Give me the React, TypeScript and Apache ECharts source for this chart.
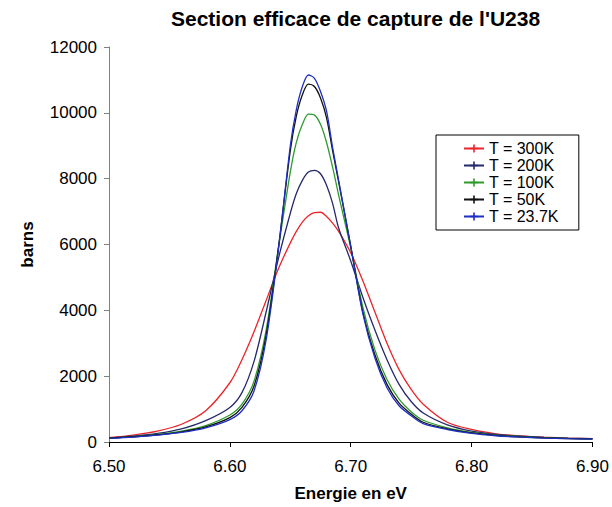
import React, { useEffect, useRef } from "react";
import * as echarts from "echarts";

const energies = [
  6.5, 6.52, 6.54, 6.56, 6.58, 6.6, 6.61, 6.62, 6.63, 6.64, 6.65, 6.655, 6.66, 6.665, 6.67,
  6.675, 6.68, 6.685, 6.69, 6.7, 6.71, 6.72, 6.73, 6.74, 6.75, 6.76, 6.78, 6.8, 6.82, 6.84,
  6.86, 6.88, 6.9,
];

const t300 = [
  130, 210, 330, 540, 950, 1800, 2500, 3350, 4300, 5250, 6050, 6400, 6680, 6870, 6970,
  6980, 6850, 6650, 6400, 5750, 4900, 3950, 3000, 2200, 1600, 1150, 600, 380, 250, 185,
  145, 120, 105,
];
const t200 = [
  120, 175, 260, 400, 650, 1050, 1500, 2450, 3950, 5550, 6950, 7550, 7950, 8200, 8250,
  8150, 7800, 7250, 6500, 5500, 4400, 3400, 2500, 1750, 1230, 880, 520, 330, 230, 175,
  140, 115, 100,
];
const t100 = [
  115, 165, 230, 330, 500, 820, 1150, 1850, 3400, 5850, 8200, 9100, 9650, 9960, 9930,
  9650, 9100, 8350, 7500, 5900, 4100, 2800, 1900, 1300, 920, 660, 430, 290, 210, 160,
  130, 108, 94,
];
const t50 = [
  115, 160, 220, 310, 460, 740, 1050, 1700, 3250, 5850, 8850, 9900, 10550, 10870, 10800,
  10450, 9850, 8850, 7900, 5950, 3950, 2650, 1750, 1180, 850, 600, 400, 275, 200, 155,
  125, 105, 92,
];
const t23 = [
  110, 150, 210, 290, 430, 680, 950, 1550, 3100, 5800, 9000, 10100, 10800, 11150, 11050,
  10650, 10050, 8950, 7950, 5950, 3900, 2550, 1650, 1100, 800, 560, 380, 260, 190, 150,
  120, 100, 90,
];

const seriesNames = ["T = 300K", "T = 200K", "T = 100K", "T = 50K", "T = 23.7K"];
const seriesColors = ["#e8262b", "#26296a", "#2e9a2e", "#111111", "#1f2fc0"];
const seriesValues = [t300, t200, t100, t50, t23];

const FONT = "Liberation Sans, Arial, sans-serif";
const PLUS = "path://M4,0H6V4H10V6H6V10H4V6H0V4H4Z";

export default function App() {
  const ref = useRef<HTMLDivElement>(null);
  useEffect(() => {
    if (!ref.current) return;
    const chart = echarts.init(ref.current, null, { renderer: "svg" });
    chart.setOption({
      animation: false,
      backgroundColor: "#ffffff",
      title: {
        text: "Section efficace de capture de l'U238",
        left: 171,
        top: 8,
        padding: 0,
        textStyle: { fontFamily: FONT, fontSize: 21, fontWeight: "bold", color: "#000" },
      },
      legend: {
        orient: "vertical",
        left: 436,
        top: 135,
        backgroundColor: "#fff",
        borderColor: "#000",
        borderWidth: 1,
        borderRadius: 0,
        padding: [5, 20, 5, 27],
        itemWidth: 20,
        itemHeight: 10,
        itemGap: 0,
        data: seriesNames,
        textStyle: { fontFamily: FONT, fontSize: 16, color: "#000", lineHeight: 17 },
      },
      grid: { left: 109, right: 19, top: 47, bottom: 63 },
      xAxis: {
        type: "value",
        min: 6.5,
        max: 6.9,
        interval: 0.1,
        name: "Energie en eV",
        nameLocation: "middle",
        nameGap: 43,
        nameTextStyle: { fontFamily: FONT, fontSize: 17, fontWeight: "bold", color: "#000" },
        axisLine: { lineStyle: { color: "#000", width: 1 } },
        axisTick: { show: true, length: 5, lineStyle: { color: "#000" } },
        axisLabel: {
          fontFamily: FONT,
          fontSize: 17,
          color: "#000",
          margin: 16,
          formatter: (v: number) => v.toFixed(2),
        },
        splitLine: { show: false },
      },
      yAxis: {
        type: "value",
        min: 0,
        max: 12000,
        interval: 2000,
        name: "barns",
        nameLocation: "middle",
        nameRotate: 90,
        nameGap: 73,
        nameTextStyle: { fontFamily: FONT, fontSize: 17, fontWeight: "bold", color: "#000" },
        axisLine: { show: true, lineStyle: { color: "#808080", width: 1 } },
        axisTick: { show: true, length: 5, lineStyle: { color: "#808080" } },
        axisLabel: {
          fontFamily: FONT,
          fontSize: 17,
          color: "#000",
          margin: 12,
          formatter: (v: number) => String(v),
        },
        splitLine: { show: false },
      },
      series: seriesNames.map((name, i) => ({
        name,
        type: "line",
        smooth: 0.3,
        symbol: PLUS,
        symbolSize: 5,
        showSymbol: false,
        color: seriesColors[i],
        lineStyle: { width: 1.3, color: seriesColors[i] },
        data: energies.map((e, j) => [e, seriesValues[i][j]]),
      })),
    });
    return () => chart.dispose();
  }, []);
  return (
    <div
      ref={ref}
      style={{ position: "absolute", left: 0, top: 0, width: 612, height: 507 }}
    />
  );
}
